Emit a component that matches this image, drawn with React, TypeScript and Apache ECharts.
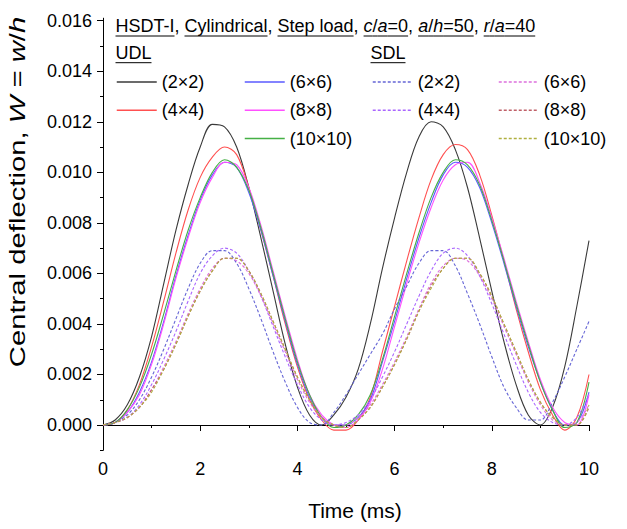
import React, { useEffect, useRef } from 'react';
import * as echarts from 'echarts';

const FONT = "'Liberation Sans', Arial, sans-serif";

const times = [0, 0.25, 0.5, 0.75, 1, 1.25, 1.5, 1.75, 2, 2.25, 2.5, 2.75, 3, 3.25, 3.5, 3.75, 4, 4.25, 4.5, 4.75, 5, 5.25, 5.5, 5.75, 6, 6.25, 6.5, 6.75, 7, 7.25, 7.5, 7.75, 8, 8.25, 8.5, 8.75, 9, 9.25, 9.5, 9.75, 10];

const udl2x2 = [0, 0.0002, 0.0008, 0.0019, 0.0035, 0.0056, 0.0077, 0.0095, 0.0110, 0.0119, 0.0118, 0.0110, 0.0094, 0.0074, 0.0053, 0.0032, 0.0015, 0.0004, 0.0000, 0.0004, 0.0011, 0.0022, 0.0040, 0.0062, 0.0082, 0.0100, 0.0114, 0.0120, 0.0118, 0.0109, 0.0094, 0.0074, 0.0053, 0.0033, 0.0016, 0.0004, 0.0000, 0.0007, 0.0023, 0.0047, 0.0073];
const udl4x4 = [0, 0.0001, 0.0006, 0.0016, 0.0031, 0.0049, 0.0068, 0.0085, 0.0098, 0.0106, 0.0110, 0.0107, 0.0094, 0.0077, 0.0059, 0.0040, 0.0023, 0.0010, 0.0002, -0.0002, -0.0002, 0.0002, 0.0011, 0.0029, 0.0047, 0.0065, 0.0082, 0.0097, 0.0107, 0.0111, 0.0109, 0.0099, 0.0083, 0.0065, 0.0046, 0.0029, 0.0014, 0.0004, -0.0002, 0.0003, 0.0020];
const udl6x6 = [0, 0.0001, 0.0005, 0.0013, 0.0025, 0.0041, 0.0059, 0.0075, 0.0089, 0.0099, 0.0104, 0.0102, 0.0092, 0.0077, 0.0059, 0.0041, 0.0024, 0.0011, 0.0003, 0.0000, 0.0000, 0.0003, 0.0010, 0.0025, 0.0041, 0.0058, 0.0074, 0.0088, 0.0099, 0.0104, 0.0102, 0.0094, 0.0080, 0.0064, 0.0047, 0.0031, 0.0017, 0.0006, 0.0000, 0.0001, 0.0013];
const udl8x8 = [0, 0.0001, 0.0005, 0.0012, 0.0024, 0.0040, 0.0058, 0.0074, 0.0088, 0.0098, 0.0104, 0.0103, 0.0094, 0.0079, 0.0061, 0.0043, 0.0026, 0.0012, 0.0004, 0.0000, -0.0001, 0.0002, 0.0009, 0.0022, 0.0039, 0.0056, 0.0072, 0.0086, 0.0097, 0.0103, 0.0104, 0.0096, 0.0082, 0.0066, 0.0049, 0.0033, 0.0018, 0.0007, 0.0001, 0.0000, 0.0012];
const udl10x10 = [0, 0.0001, 0.0006, 0.0015, 0.0028, 0.0044, 0.0061, 0.0077, 0.0090, 0.0100, 0.0105, 0.0102, 0.0093, 0.0078, 0.0060, 0.0042, 0.0025, 0.0012, 0.0003, -0.0001, 0.0000, 0.0004, 0.0012, 0.0026, 0.0043, 0.0060, 0.0076, 0.0090, 0.0100, 0.0105, 0.0103, 0.0095, 0.0081, 0.0065, 0.0048, 0.0032, 0.0017, 0.0006, -0.0001, 0.0001, 0.0017];

const sdl2x2 = [0, 0.0001, 0.0004, 0.0010, 0.0019, 0.0030, 0.0042, 0.0054, 0.0064, 0.0069, 0.0069, 0.0064, 0.0054, 0.0042, 0.0029, 0.0017, 0.0007, 0.0001, 0.0000, 0.0005, 0.0012, 0.0020, 0.0028, 0.0036, 0.0046, 0.0055, 0.0064, 0.0069, 0.0069, 0.0063, 0.0052, 0.0040, 0.0027, 0.0015, 0.0007, 0.0002, 0.0002, 0.0009, 0.0019, 0.0030, 0.0041];
const sdl4x4 = [0, 0.0001, 0.0003, 0.0008, 0.0016, 0.0026, 0.0037, 0.0049, 0.0060, 0.0067, 0.0070, 0.0068, 0.0061, 0.0051, 0.0039, 0.0027, 0.0016, 0.0007, 0.0002, 0.0000, 0.0001, 0.0004, 0.0010, 0.0019, 0.0029, 0.0040, 0.0051, 0.0061, 0.0068, 0.0070, 0.0067, 0.0059, 0.0048, 0.0036, 0.0024, 0.0013, 0.0005, 0.0001, 0.0000, 0.0003, 0.0012];
const sdl6x6 = [0, 0.0001, 0.0003, 0.0007, 0.0014, 0.0023, 0.0033, 0.0044, 0.0054, 0.0062, 0.0066, 0.0065, 0.0060, 0.0051, 0.0040, 0.0029, 0.0018, 0.0009, 0.0003, 0.0000, 0.0000, 0.0003, 0.0008, 0.0016, 0.0025, 0.0035, 0.0046, 0.0056, 0.0063, 0.0066, 0.0065, 0.0059, 0.0050, 0.0039, 0.0028, 0.0017, 0.0008, 0.0002, 0.0000, 0.0001, 0.0008];
const sdl8x8 = [0, 0.0001, 0.0003, 0.0007, 0.0014, 0.0022, 0.0032, 0.0043, 0.0053, 0.0061, 0.0066, 0.0066, 0.0061, 0.0052, 0.0041, 0.0030, 0.0019, 0.0010, 0.0003, 0.0000, -0.0001, 0.0002, 0.0007, 0.0015, 0.0024, 0.0034, 0.0045, 0.0055, 0.0062, 0.0066, 0.0066, 0.0060, 0.0051, 0.0040, 0.0029, 0.0018, 0.0009, 0.0003, 0.0000, 0.0000, 0.0007];
const sdl10x10 = [0, 0.0001, 0.0003, 0.0007, 0.0013, 0.0022, 0.0032, 0.0043, 0.0053, 0.0061, 0.0066, 0.0066, 0.0061, 0.0052, 0.0041, 0.0030, 0.0019, 0.0010, 0.0003, 0.0000, -0.0001, 0.0002, 0.0007, 0.0015, 0.0024, 0.0034, 0.0045, 0.0054, 0.0062, 0.0066, 0.0066, 0.0060, 0.0051, 0.0040, 0.0029, 0.0018, 0.0009, 0.0003, 0.0000, 0.0000, 0.0008];

const xTickValues = [0, 2, 4, 6, 8, 10];
const xMinorTickValues = [1, 3, 5, 7, 9];
const yTickValues = [0, 0.002, 0.004, 0.006, 0.008, 0.010, 0.012, 0.014, 0.016];
const yTickLabels = ['0.000', '0.002', '0.004', '0.006', '0.008', '0.010', '0.012', '0.014', '0.016'];
const yMinorTickValues = [-0.001, 0.001, 0.003, 0.005, 0.007, 0.009, 0.011, 0.013, 0.015];

const legendCols = [
  ['UDL (2×2)', 'UDL (4×4)'],
  ['UDL (6×6)', 'UDL (8×8)', 'UDL (10×10)'],
  ['SDL (2×2)', 'SDL (4×4)'],
  ['SDL (6×6)', 'SDL (8×8)', 'SDL (10×10)'],
];

const seriesDefs = [
  { name: 'UDL (2×2)', data: udl2x2, color: '#3a3a3a', dashed: false },
  { name: 'UDL (4×4)', data: udl4x4, color: '#ff5050', dashed: false },
  { name: 'UDL (6×6)', data: udl6x6, color: '#5a5aff', dashed: false },
  { name: 'UDL (8×8)', data: udl8x8, color: '#ff50ff', dashed: false },
  { name: 'UDL (10×10)', data: udl10x10, color: '#45b045', dashed: false },
  { name: 'SDL (2×2)', data: sdl2x2, color: '#6666d6', dashed: true },
  { name: 'SDL (4×4)', data: sdl4x4, color: '#aa66ff', dashed: true },
  { name: 'SDL (6×6)', data: sdl6x6, color: '#dd70dd', dashed: true },
  { name: 'SDL (8×8)', data: sdl8x8, color: '#c06068', dashed: true },
  { name: 'SDL (10×10)', data: sdl10x10, color: '#b0b040', dashed: true },
];

const titleSegments = [
  { t: 'HSDT-I', u: true, i: false },
  { t: ', ', u: false, i: false },
  { t: 'Cylindrical', u: true, i: false },
  { t: ', ', u: false, i: false },
  { t: 'Step load', u: true, i: false },
  { t: ', ', u: false, i: false },
  { t: 'c', u: true, i: true },
  { t: '/', u: true, i: false },
  { t: 'a', u: true, i: true },
  { t: '=0', u: true, i: false },
  { t: ', ', u: false, i: false },
  { t: 'a', u: true, i: true },
  { t: '/', u: true, i: false },
  { t: 'h', u: true, i: true },
  { t: '=50', u: true, i: false },
  { t: ', ', u: false, i: false },
  { t: 'r', u: true, i: true },
  { t: '/', u: true, i: false },
  { t: 'a', u: true, i: true },
  { t: '=40', u: true, i: false },
];

export default function App() {
  const ref = useRef<HTMLDivElement>(null);

  useEffect(() => {
    if (!ref.current) return;
    const chart = echarts.init(ref.current, null, { renderer: 'svg' });

    const canvas = document.createElement('canvas');
    const ctx = canvas.getContext('2d')!;
    const measure = (text: string, italic: boolean, size: number) => {
      ctx.font = `${italic ? 'italic ' : ''}${size}px ${FONT}`;
      return ctx.measureText(text).width;
    };

    const graphics: any[] = [];
    let x = 115.5;
    const titleY = 25.5;
    titleSegments.forEach((s) => {
      const w = measure(s.t, s.i, 18);
      graphics.push({
        type: 'text', x, y: titleY,
        style: { text: s.t, fontSize: 18, fontFamily: FONT, fontStyle: s.i ? 'italic' : 'normal', fill: '#000', verticalAlign: 'middle', align: 'left' },
      });
      if (s.u) {
        graphics.push({ type: 'line', shape: { x1: x, y1: 36, x2: x + w, y2: 36 }, style: { stroke: '#000', lineWidth: 1 } });
      }
      x += w;
    });
    [['UDL', 115.5], ['SDL', 370.5]].forEach(([t, px]) => {
      const w = measure(t as string, false, 18);
      graphics.push({
        type: 'text', x: px, y: 52.5,
        style: { text: t, fontSize: 18, fontFamily: FONT, fill: '#000', verticalAlign: 'middle', align: 'left' },
      });
      graphics.push({ type: 'line', shape: { x1: px, y1: 62.7, x2: (px as number) + w, y2: 62.7 }, style: { stroke: '#000', lineWidth: 1 } });
    });
    graphics.push({
      type: 'text', x: 17.5, y: 192, rotation: Math.PI / 2, scaleX: 1.33,
      style: {
        text: 'Central deflection, {i|W} = {i|w}/{i|h}',
        rich: { i: { fontStyle: 'italic', fontSize: 22, fontFamily: FONT, fill: '#000' } },
        fontSize: 22, fontFamily: FONT, fill: '#000', align: 'center', verticalAlign: 'middle',
      },
    });
    graphics.push({
      type: 'text', x: 355, y: 510,
      style: { text: 'Time (ms)', fontSize: 21, fontFamily: FONT, fill: '#000', align: 'center', verticalAlign: 'middle' },
    });

    const legendLefts = [116, 244, 372, 498];
    const legends = legendCols.map((names, k) => ({
      left: legendLefts[k], top: 72, orient: 'vertical', padding: 0,
      itemWidth: 40, itemHeight: 20, itemGap: 8.3, selectedMode: false,
      data: names,
      formatter: (n: string) => n.replace(/^[US]DL /, ''),
      textStyle: { fontSize: 18, fontFamily: FONT, color: '#000', lineHeight: 20 },
      lineStyle: { width: 1.5 },
      itemStyle: { color: 'rgba(0,0,0,0)', borderWidth: 0, opacity: 0 },
    }));

    const axisCommon = {
      axisLine: { show: true, lineStyle: { color: '#000', width: 1 } },
      splitLine: { show: false },
    };

    chart.setOption({
      animation: false,
      backgroundColor: '#fff',
      grid: { left: 103, right: 38, top: 18.2, bottom: 78.7, containLabel: false },
      legend: legends,
      graphic: graphics,
      xAxis: [
        {
          type: 'value', min: 0, max: 10, position: 'bottom', ...axisCommon,
          axisTick: { show: true, inside: false, length: 6, customValues: xTickValues, lineStyle: { color: '#000' } },
          axisLabel: { show: true, customValues: xTickValues, fontSize: 18, fontFamily: FONT, color: '#000', margin: 10, formatter: (v: number) => String(v) },
        },
        {
          type: 'value', min: 0, max: 10, position: 'bottom',
          axisLine: { show: false }, splitLine: { show: false },
          axisTick: { show: true, inside: false, length: 3, customValues: xMinorTickValues, lineStyle: { color: '#000' } },
          axisLabel: { show: false },
        },
      ],
      yAxis: [
        {
          type: 'value', min: -0.001, max: 0.0161, position: 'left', ...axisCommon,
          axisTick: { show: true, inside: false, length: 6, customValues: yTickValues, lineStyle: { color: '#000' } },
          axisLabel: {
            show: true, customValues: yTickValues, fontSize: 18, fontFamily: FONT, color: '#000', margin: 11,
            formatter: (v: number) => {
              const idx = yTickValues.findIndex((t) => Math.abs(t - v) < 1e-9);
              return idx >= 0 ? yTickLabels[idx] : '';
            },
          },
        },
        {
          type: 'value', min: -0.001, max: 0.0161, position: 'left',
          axisLine: { show: false }, splitLine: { show: false },
          axisTick: { show: true, inside: false, length: 3, customValues: yMinorTickValues, lineStyle: { color: '#000' } },
          axisLabel: { show: false },
        },
      ],
      series: seriesDefs.map((s) => ({
        name: s.name,
        type: 'line',
        xAxisIndex: 0,
        yAxisIndex: 0,
        symbol: 'none',
        showSymbol: false,
        smooth: 0.35,
        data: times.map((t, i) => [t, s.data[i]]),
        lineStyle: { color: s.color, width: 1.1, type: s.dashed ? [3, 2] : 'solid' },
        itemStyle: { color: s.color },
      })),
    });

    return () => chart.dispose();
  }, []);

  return <div ref={ref} style={{ position: 'fixed', left: 0, top: 0, width: 627, height: 529, background: '#fff' }} />;
}
